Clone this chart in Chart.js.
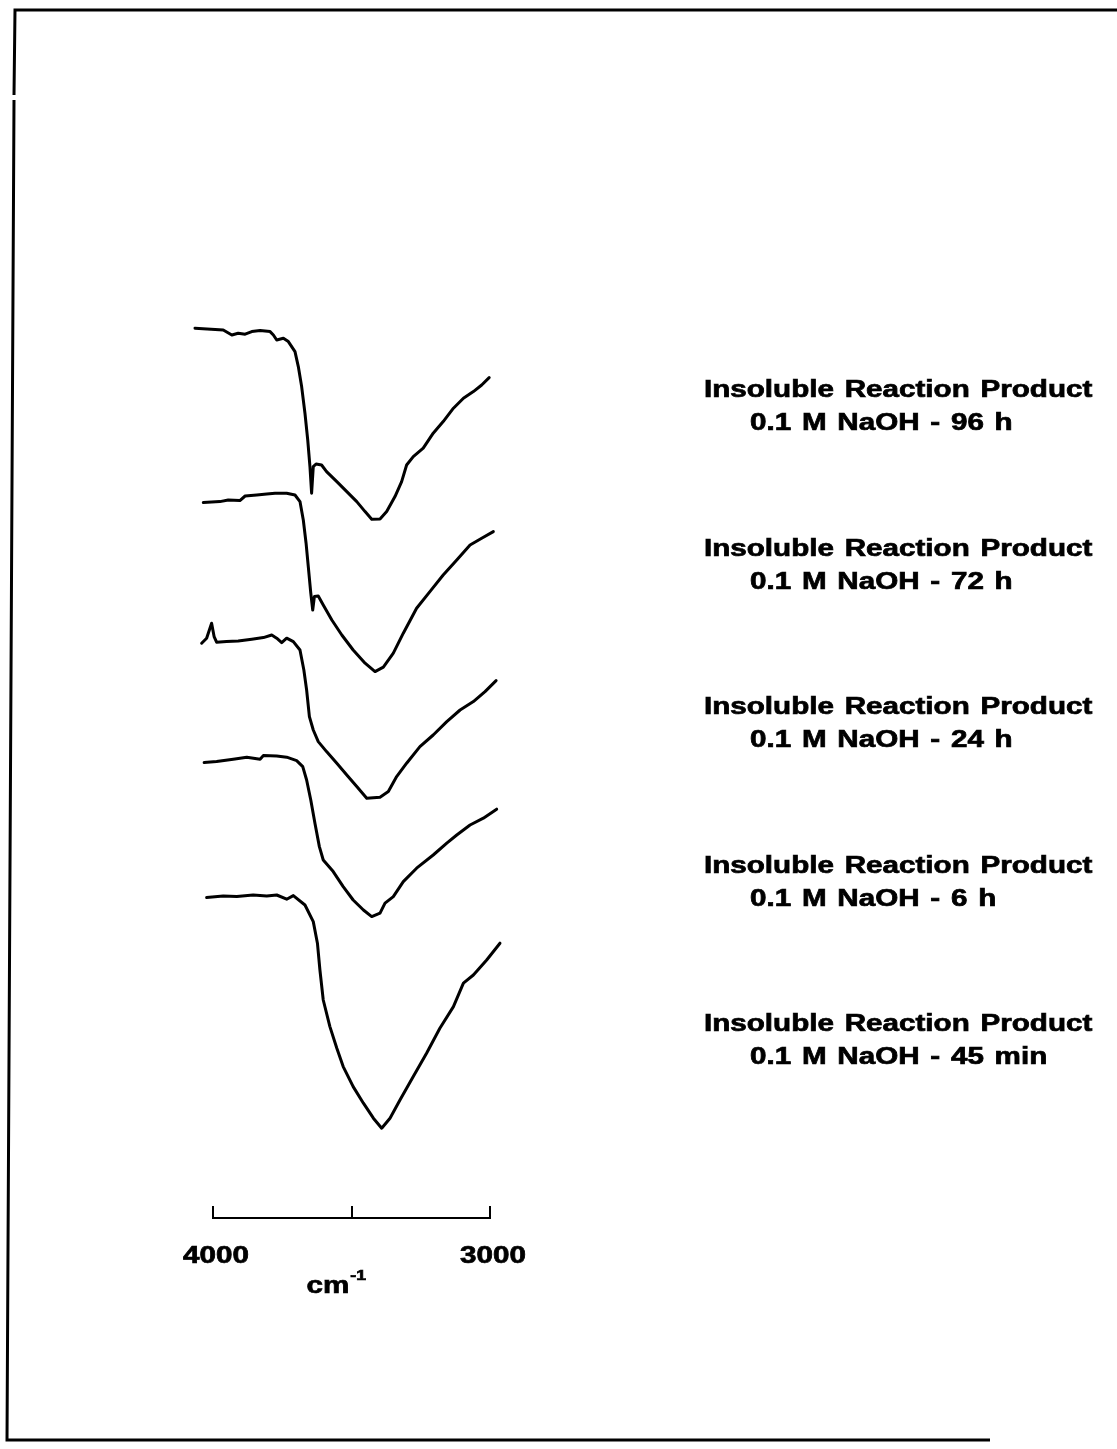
<!DOCTYPE html>
<html>
<head>
<meta charset="utf-8">
<title>IR spectra - insoluble reaction product</title>
<script src="https://cdn.jsdelivr.net/npm/chart.js@4.4.1/dist/chart.umd.min.js"></script>
<style>
  html, body { margin: 0; padding: 0; background: #fff; }
  #wrap { position: relative; width: 1117px; height: 1449px; }
</style>
</head>
<body>
<div id="wrap"><canvas id="spectra" width="1117" height="1449"></canvas></div>
<script>
// wavenumber (cm-1) / stacked transmittance (arb. units)
const wn96 = [4065, 3963, 3932, 3909, 3884, 3860, 3830, 3794, 3782, 3770, 3746, 3728, 3704, 3692, 3680, 3668, 3658, 3650, 3644, 3638, 3628, 3608, 3590, 3553, 3517, 3481, 3451, 3427, 3397, 3373, 3343, 3319, 3301, 3277, 3241, 3205, 3169, 3132, 3096, 3060, 3030, 3003];
const t96 = [444.9, 444, 441.5, 442.4, 441.9, 443.2, 443.7, 443.2, 441.5, 439, 439.9, 438.2, 433.2, 425.7, 415.7, 402.4, 389, 375.7, 362.4, 375.7, 377, 376.5, 373.2, 368.2, 363.2, 358.2, 353.2, 349.4, 349.5, 353.2, 360.7, 368.2, 376.5, 380.7, 384.9, 392.4, 398.2, 404.9, 409.9, 413.2, 416.5, 420.2];

const wn72 = [4035, 3975, 3945, 3903, 3884, 3842, 3806, 3776, 3734, 3704, 3686, 3674, 3664, 3656, 3647, 3640, 3634, 3620, 3602, 3571, 3535, 3494, 3451, 3415, 3385, 3349, 3313, 3265, 3217, 3169, 3120, 3072, 3030, 2988];
const t72 = [357.7, 358.2, 359, 358.7, 361, 361.5, 362, 362.4, 362.4, 361.5, 358.2, 349, 337.4, 325.7, 312.4, 304, 310.7, 311, 306.5, 299, 291.5, 284, 277.4, 273.2, 275.4, 282.4, 292.4, 304.9, 313.2, 321.5, 329, 336.5, 339.9, 343.2];

const wn24 = [4041, 4023, 4005, 3996, 3987, 3951, 3909, 3860, 3818, 3788, 3770, 3752, 3734, 3710, 3686, 3672, 3662, 3652, 3638, 3620, 3590, 3553, 3517, 3481, 3445, 3397, 3367, 3337, 3301, 3253, 3205, 3156, 3108, 3060, 3018, 2978];
const t24 = [287.4, 289.9, 297.4, 290.7, 287.9, 288.2, 288.5, 289.4, 290.2, 291.5, 289.9, 287.7, 289.9, 288.2, 284, 274, 264, 250.7, 244, 238.2, 233.2, 227.4, 221.5, 215.7, 209.9, 210.4, 213.2, 220.7, 227.4, 235.7, 241.5, 248.2, 254, 258.2, 263.2, 268.7];

const wn6 = [4032, 3987, 3927, 3878, 3830, 3818, 3770, 3734, 3698, 3676, 3662, 3647, 3632, 3616, 3602, 3566, 3530, 3494, 3457, 3427, 3397, 3379, 3349, 3313, 3265, 3205, 3156, 3120, 3072, 3024, 2976];
const t6 = [227.7, 228.2, 229.4, 230.4, 229.4, 231.2, 231, 230.4, 228.7, 225.7, 219, 209, 197.4, 185.7, 179, 173.2, 165.7, 159, 154, 150.7, 152.4, 157.4, 160.7, 168.2, 174.9, 181.5, 187.4, 191.5, 196.5, 199.9, 204.4];

const wn45 = [4023, 3963, 3914, 3855, 3806, 3770, 3734, 3710, 3668, 3638, 3623, 3614, 3602, 3578, 3553, 3530, 3494, 3457, 3421, 3391, 3361, 3325, 3277, 3229, 3181, 3132, 3096, 3060, 3012, 2964];
const t45 = [160.2, 161, 160.7, 161.5, 161, 161.5, 159.4, 161.2, 156.5, 148.2, 137.4, 124, 109, 95.7, 84.9, 75.7, 65.7, 57.4, 49.9, 44.9, 49.9, 59, 70.7, 82.4, 94.9, 105.7, 117.4, 121.5, 129, 137.4];

const productTitle = "Insoluble Reaction Product";
const seriesNames = ["0.1 M NaOH - 96 h", "0.1 M NaOH - 72 h", "0.1 M NaOH - 24 h", "0.1 M NaOH - 6 h", "0.1 M NaOH - 45 min"];
const tickValues = [4000, 3500, 3000];
const tickLabels = ["4000", "", "3000"];
const axisUnit = "cm";
const axisUnitExp = "-1";

const traces = [[wn96, t96], [wn72, t72], [wn24, t24], [wn6, t6], [wn45, t45]];

// the scanned lettering is wide and heavy, so text is drawn stretched sideways
function drawWide(ctx, text, x, y, size, align) {
  ctx.save();
  ctx.font = "bold " + size + "px 'Liberation Sans', Arial, sans-serif";
  ctx.wordSpacing = "2px";
  ctx.fillStyle = "#000";
  ctx.strokeStyle = "#000";
  ctx.lineWidth = 0.7;
  ctx.textBaseline = "alphabetic";
  ctx.textAlign = align || "left";
  ctx.translate(x, y);
  ctx.scale(1.26, 1);
  ctx.fillText(text, 0, 0);
  ctx.strokeText(text, 0, 0);
  const w = ctx.measureText(text).width * 1.26;
  ctx.restore();
  return w;
}

const annotations = {
  id: "annotations",
  afterDraw(chart) {
    const ctx = chart.ctx;
    const x = chart.scales.x;
    const area = chart.chartArea;

    // tick labels under the scale bar
    tickValues.forEach((v, i) => {
      if (tickLabels[i]) drawWide(ctx, tickLabels[i], x.getPixelForValue(v) + 3, area.bottom + 45, 23.5, "center");
    });

    // cm-1
    const ux = x.getPixelForValue(3500) - 45;
    const w = drawWide(ctx, axisUnit, ux, area.bottom + 75, 23.5, "left");
    drawWide(ctx, axisUnitExp, ux + w + 1, area.bottom + 62, 14, "left");

    // series labels to the right
    chart.data.datasets.forEach((ds, i) => {
      const base = 397 + i * 158.5;
      drawWide(ctx, productTitle, 704, base, 23.5, "left");
      drawWide(ctx, ds.label, 750, base + 33, 23.5, "left");
    });

    // page frame
    ctx.save();
    ctx.strokeStyle = "#000";
    ctx.lineWidth = 3;
    ctx.beginPath();
    ctx.moveTo(1117, 10);
    ctx.lineTo(15, 10);
    ctx.lineTo(14, 95);
    ctx.moveTo(14, 100);
    ctx.lineTo(7, 1440);
    ctx.lineTo(990, 1440);
    ctx.stroke();
    ctx.restore();
  }
};

new Chart(document.getElementById("spectra"), {
  type: "line",
  data: {
    datasets: traces.map((tr, i) => ({
      label: seriesNames[i],
      data: tr[0].map((w, k) => ({ x: w, y: tr[1][k] })),
      borderColor: "#000",
      borderWidth: 3,
      borderJoinStyle: "round",
      borderCapStyle: "round",
      pointRadius: 0,
      tension: 0,
      fill: false,
      clip: false,
    })),
  },
  options: {
    responsive: false,
    animation: false,
    devicePixelRatio: 1,
    events: [],
    layout: { padding: { left: 213, right: 627, top: 318, bottom: 191 } },
    scales: {
      x: {
        type: "linear",
        reverse: true,
        min: 3000,
        max: 4000,
        ticks: { display: false, stepSize: 500 },
        grid: { drawOnChartArea: false, drawTicks: true, tickLength: -12, color: "#000", lineWidth: 2 },
        border: { display: true, color: "#000", width: 2 },
        afterFit(scale) { scale.height = 40; },
      },
      y: { display: false, min: 0, max: 450 },
    },
    plugins: {
      legend: { display: false },
      tooltip: { enabled: false },
    },
  },
  plugins: [annotations],
});
</script>
</body>
</html>
